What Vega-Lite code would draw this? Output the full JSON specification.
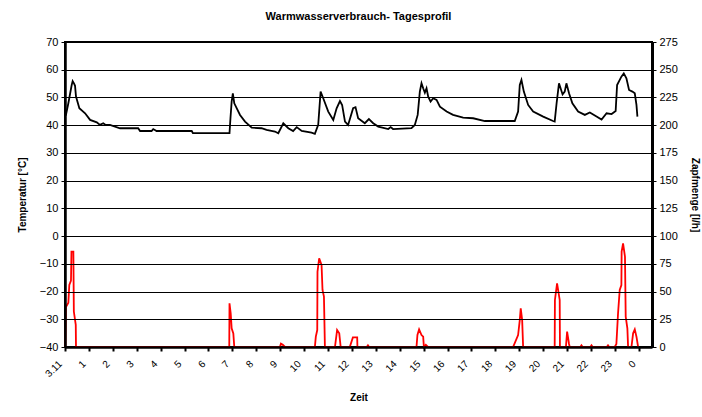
{
  "$schema": "https://vega.github.io/schema/vega-lite/v6.json",
  "width": 587,
  "height": 305,
  "autosize": {"type": "none"},
  "padding": {"left": 65, "top": 42, "right": 50, "bottom": 70},
  "background": "white",
  "title": {
    "text": "Warmwasserverbrauch- Tagesprofil",
    "font": "Liberation Sans",
    "fontSize": 11,
    "fontWeight": "bold",
    "color": "black",
    "anchor": "middle",
    "offset": 14
  },
  "config": {
    "view": {"stroke": "black", "strokeWidth": 2},
    "axis": {"labelFont": "Liberation Sans", "titleFont": "Liberation Sans", "labelColor": "black", "titleColor": "black", "domainColor": "black", "tickColor": "black"}
  },
  "datasets": {
    "temp": [
      {"h": 0.00, "T": 43.5}, {"h": 0.04, "T": 43.7}, {"h": 0.14, "T": 47.9}, {"h": 0.28, "T": 54.5},
      {"h": 0.32, "T": 55.9}, {"h": 0.38, "T": 55.0}, {"h": 0.42, "T": 54.2}, {"h": 0.46, "T": 50.3},
      {"h": 0.60, "T": 46.1}, {"h": 0.84, "T": 44.3}, {"h": 1.05, "T": 41.9}, {"h": 1.33, "T": 41.0},
      {"h": 1.46, "T": 40.1}, {"h": 1.60, "T": 40.7}, {"h": 1.70, "T": 40.1}, {"h": 1.88, "T": 40.1},
      {"h": 2.30, "T": 38.9}, {"h": 3.06, "T": 38.9}, {"h": 3.14, "T": 37.9}, {"h": 3.62, "T": 37.9},
      {"h": 3.69, "T": 38.6}, {"h": 3.83, "T": 37.9}, {"h": 5.30, "T": 37.9}, {"h": 5.35, "T": 37.1},
      {"h": 6.88, "T": 37.1}, {"h": 6.92, "T": 42.5}, {"h": 6.97, "T": 48.5}, {"h": 7.02, "T": 51.5},
      {"h": 7.08, "T": 47.9}, {"h": 7.32, "T": 43.7}, {"h": 7.53, "T": 41.3}, {"h": 7.81, "T": 39.1},
      {"h": 8.22, "T": 38.9}, {"h": 8.43, "T": 38.3}, {"h": 8.78, "T": 37.7}, {"h": 8.92, "T": 37.1},
      {"h": 9.13, "T": 40.7}, {"h": 9.34, "T": 38.9}, {"h": 9.54, "T": 37.9}, {"h": 9.69, "T": 39.3},
      {"h": 9.90, "T": 37.9}, {"h": 10.31, "T": 37.3}, {"h": 10.45, "T": 36.9}, {"h": 10.59, "T": 40.1},
      {"h": 10.69, "T": 52.1}, {"h": 10.80, "T": 49.7}, {"h": 11.01, "T": 44.9}, {"h": 11.22, "T": 41.9},
      {"h": 11.36, "T": 46.1}, {"h": 11.50, "T": 48.7}, {"h": 11.59, "T": 47.3}, {"h": 11.71, "T": 41.3},
      {"h": 11.84, "T": 40.1}, {"h": 12.05, "T": 46.1}, {"h": 12.15, "T": 46.5}, {"h": 12.26, "T": 42.5},
      {"h": 12.54, "T": 40.7}, {"h": 12.71, "T": 42.2}, {"h": 12.89, "T": 40.7}, {"h": 13.10, "T": 39.5},
      {"h": 13.52, "T": 38.6}, {"h": 13.62, "T": 39.3}, {"h": 13.72, "T": 38.6}, {"h": 14.49, "T": 38.9},
      {"h": 14.63, "T": 40.1}, {"h": 14.75, "T": 43.7}, {"h": 14.84, "T": 52.1}, {"h": 14.91, "T": 55.1},
      {"h": 14.98, "T": 53.3}, {"h": 15.05, "T": 51.7}, {"h": 15.12, "T": 53.3}, {"h": 15.19, "T": 50.3},
      {"h": 15.29, "T": 48.5}, {"h": 15.40, "T": 49.7}, {"h": 15.54, "T": 49.1}, {"h": 15.68, "T": 46.7},
      {"h": 15.96, "T": 44.9}, {"h": 16.23, "T": 43.7}, {"h": 16.65, "T": 42.7}, {"h": 17.07, "T": 42.5},
      {"h": 17.56, "T": 41.5}, {"h": 18.81, "T": 41.5}, {"h": 18.95, "T": 44.9}, {"h": 19.02, "T": 54.5},
      {"h": 19.09, "T": 56.3}, {"h": 19.19, "T": 52.1}, {"h": 19.37, "T": 47.3}, {"h": 19.58, "T": 44.9},
      {"h": 20.00, "T": 43.1}, {"h": 20.41, "T": 41.5}, {"h": 20.48, "T": 41.3}, {"h": 20.56, "T": 47.9},
      {"h": 20.66, "T": 55.1}, {"h": 20.81, "T": 51.1}, {"h": 20.90, "T": 52.1}, {"h": 20.97, "T": 55.1},
      {"h": 21.08, "T": 51.5}, {"h": 21.22, "T": 47.9}, {"h": 21.46, "T": 44.9}, {"h": 21.74, "T": 43.7},
      {"h": 21.95, "T": 44.6}, {"h": 22.23, "T": 43.1}, {"h": 22.44, "T": 42.0}, {"h": 22.65, "T": 44.3},
      {"h": 22.86, "T": 44.0}, {"h": 23.03, "T": 45.1}, {"h": 23.09, "T": 54.5}, {"h": 23.27, "T": 57.5},
      {"h": 23.37, "T": 58.7}, {"h": 23.48, "T": 56.9}, {"h": 23.59, "T": 52.7}, {"h": 23.73, "T": 52.1},
      {"h": 23.83, "T": 51.5}, {"h": 23.90, "T": 47.3}, {"h": 23.94, "T": 43.1}
    ],
    "flow": [
      {"h": 0.02, "F": 0}, {"h": 0.04, "F": 36}, {"h": 0.14, "F": 40}, {"h": 0.18, "F": 56},
      {"h": 0.25, "F": 60}, {"h": 0.27, "F": 86}, {"h": 0.35, "F": 86}, {"h": 0.37, "F": 32},
      {"h": 0.45, "F": 20}, {"h": 0.46, "F": 0}, {"h": 6.87, "F": 0}, {"h": 6.88, "F": 39.4},
      {"h": 6.93, "F": 30.4}, {"h": 6.97, "F": 16.8}, {"h": 7.04, "F": 12.3}, {"h": 7.08, "F": 0},
      {"h": 8.99, "F": 0}, {"h": 9.03, "F": 3}, {"h": 9.11, "F": 2}, {"h": 9.20, "F": 0},
      {"h": 10.45, "F": 0}, {"h": 10.49, "F": 9.3}, {"h": 10.55, "F": 15.3}, {"h": 10.56, "F": 67.9},
      {"h": 10.63, "F": 80}, {"h": 10.73, "F": 73.9}, {"h": 10.77, "F": 51.4}, {"h": 10.83, "F": 45.4},
      {"h": 10.87, "F": 0}, {"h": 11.29, "F": 0}, {"h": 11.38, "F": 15.3}, {"h": 11.47, "F": 12.3},
      {"h": 11.53, "F": 0}, {"h": 11.91, "F": 0}, {"h": 12.04, "F": 8.7}, {"h": 12.22, "F": 8.7},
      {"h": 12.23, "F": 0}, {"h": 12.62, "F": 0}, {"h": 12.67, "F": 1.5}, {"h": 12.72, "F": 0},
      {"h": 14.70, "F": 0}, {"h": 14.74, "F": 10.8}, {"h": 14.81, "F": 15.9}, {"h": 14.91, "F": 10.8},
      {"h": 14.98, "F": 9.3}, {"h": 15.01, "F": 0}, {"h": 15.09, "F": 2}, {"h": 15.18, "F": 0},
      {"h": 18.74, "F": 0}, {"h": 18.95, "F": 10.8}, {"h": 19.02, "F": 24.3}, {"h": 19.06, "F": 34.9},
      {"h": 19.12, "F": 24.3}, {"h": 19.16, "F": 0}, {"h": 20.48, "F": 0}, {"h": 20.49, "F": 42.4},
      {"h": 20.58, "F": 57.4}, {"h": 20.69, "F": 42.4}, {"h": 20.70, "F": 0}, {"h": 20.95, "F": 0},
      {"h": 21.00, "F": 13.8}, {"h": 21.08, "F": 2.7}, {"h": 21.11, "F": 0}, {"h": 21.55, "F": 0},
      {"h": 21.60, "F": 1.5}, {"h": 21.65, "F": 0}, {"h": 21.97, "F": 0}, {"h": 22.02, "F": 1.5},
      {"h": 22.07, "F": 0}, {"h": 22.66, "F": 0}, {"h": 22.71, "F": 1.5}, {"h": 22.76, "F": 0},
      {"h": 22.99, "F": 0}, {"h": 23.06, "F": 2.7}, {"h": 23.13, "F": 30.4}, {"h": 23.20, "F": 51.4},
      {"h": 23.27, "F": 55.9}, {"h": 23.28, "F": 86}, {"h": 23.34, "F": 93.5}, {"h": 23.42, "F": 81.4},
      {"h": 23.45, "F": 27.3}, {"h": 23.52, "F": 16.8}, {"h": 23.55, "F": 0}, {"h": 23.69, "F": 0},
      {"h": 23.76, "F": 12.3}, {"h": 23.83, "F": 15.9}, {"h": 23.90, "F": 9.3}, {"h": 23.97, "F": 0}
    ]
  },
  "encoding": {
    "x": {
      "field": "h", "type": "quantitative",
      "scale": {"domain": [0, 24.55], "nice": false, "zero": false},
      "axis": {
        "title": "Zeit", "titleFontSize": 10, "titleFontWeight": "bold", "titlePadding": 14,
        "values": [0,1,2,3,4,5,6,7,8,9,10,11,12,13,14,15,16,17,18,19,20,21,22,23,24],
        "labelExpr": "datum.value == 0 ? '3.11' : datum.value == 24 ? '0' : datum.value",
        "labelAngle": -45, "labelAlign": "right", "labelBaseline": "middle",
        "labelFontSize": 10, "labelPadding": 11, "labelOffset": -5,
        "grid": false, "domainWidth": 2.5, "tickWidth": 2, "tickSize": 4,
        "labelOverlap": false, "zindex": 2
      }
    }
  },
  "layer": [
    {
      "data": {"name": "temp"},
      "mark": {"type": "line", "color": "black", "strokeWidth": 1.8},
      "encoding": {
        "y": {
          "field": "T", "type": "quantitative",
          "scale": {"domain": [-40, 70], "nice": false, "zero": false},
          "axis": {
            "title": "Temperatur [°C]", "titleFontSize": 10, "titleFontWeight": "bold", "titlePadding": 12,
            "values": [-40,-30,-20,-10,0,10,20,30,40,50,60,70],
            "labelFontSize": 11, "labelPadding": 3,
            "grid": true, "gridColor": "black", "gridWidth": 1, "gridOpacity": 1,
            "domainWidth": 2.5, "tickWidth": 1, "tickSize": 4, "zindex": 2
          }
        }
      }
    },
    {
      "data": {"name": "flow"},
      "mark": {"type": "line", "color": "#ff0000", "strokeWidth": 1.8},
      "encoding": {
        "y": {
          "field": "F", "type": "quantitative",
          "scale": {"domain": [0, 275], "nice": false},
          "axis": {
            "orient": "right",
            "title": "Zapfmenge [l/h]", "titleFontSize": 10, "titleFontWeight": "bold", "titlePadding": 12,
            "values": [0,25,50,75,100,125,150,175,200,225,250,275],
            "labelFontSize": 11, "labelPadding": 3,
            "grid": false, "domainWidth": 3, "tickWidth": 1, "tickSize": 4, "zindex": 2
          }
        }
      }
    }
  ],
  "resolve": {"scale": {"y": "independent"}}
}
